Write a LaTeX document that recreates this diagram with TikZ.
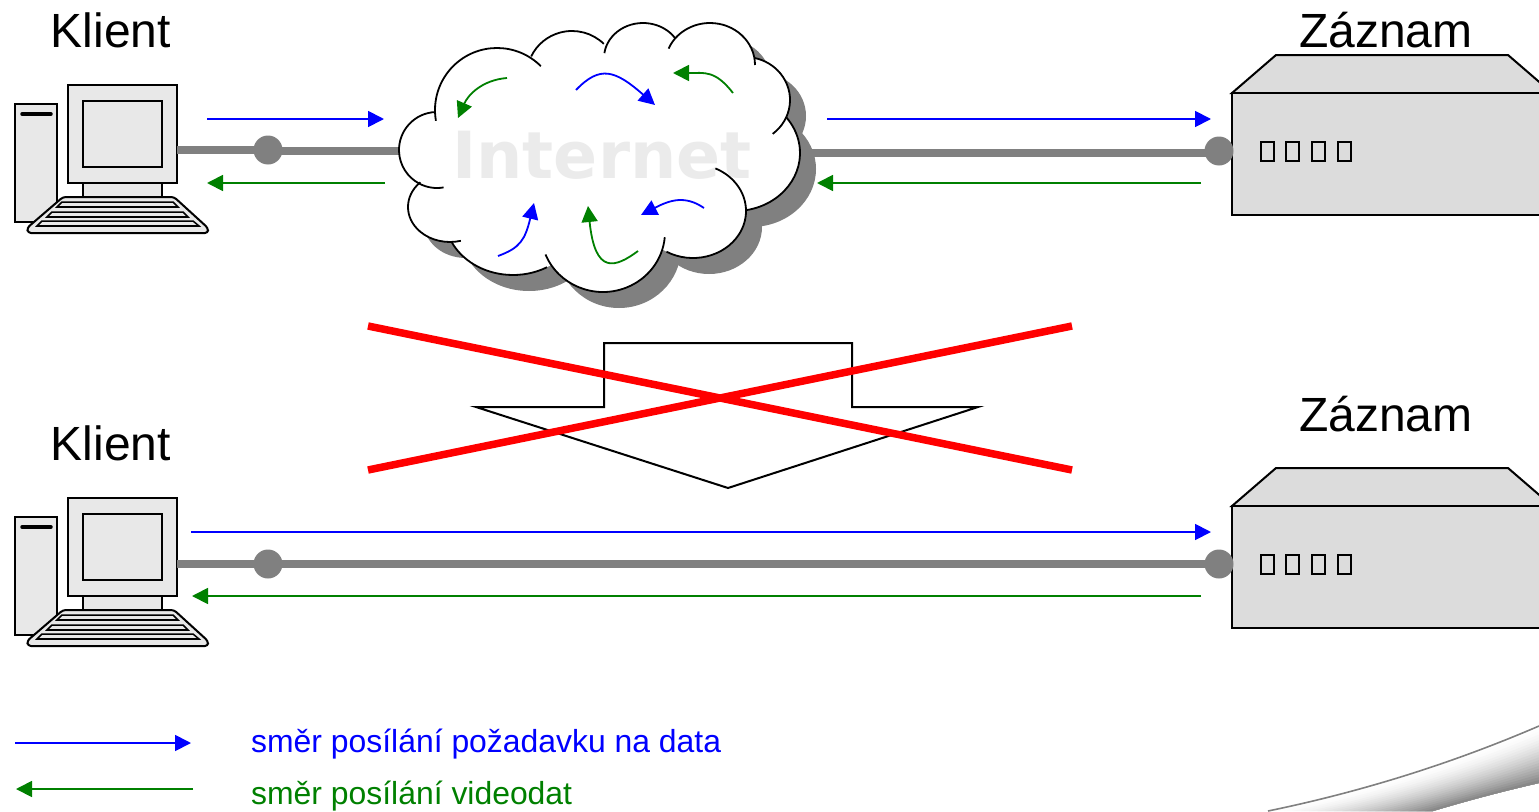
\documentclass[tikz,border=0pt]{standalone}
\usepackage{fontspec}
\setmainfont{Liberation Sans}
\newfontfamily\inetfont{DejaVu Sans}
\usetikzlibrary{arrows.meta}

\definecolor{linegray}{HTML}{808080}
\definecolor{pcgray}{HTML}{E8E8E8}
\definecolor{boxgray}{HTML}{DCDCDC}
\definecolor{inetgray}{HTML}{EBEBEB}
\definecolor{redcross}{HTML}{FF0000}
\definecolor{vidgreen}{HTML}{008000}

\begin{document}
\begin{tikzpicture}[
	x = 1pt, y = -1pt, % picture is laid out in pixels of the page
	> = {Triangle[length=16pt,width=16pt]}, % arrow head style
	P/.style={draw=black, fill=pcgray, line width=2pt, inner sep=0pt, outer sep=0pt}, % computer parts
	Z/.style={draw=black, fill=boxgray, line width=2pt, inner sep=0pt, outer sep=0pt}, % recorder parts
	D/.style={circle, fill=linegray, minimum size=29pt, inner sep=0pt, outer sep=0pt}, % plug
	G/.style={draw=linegray, line width=7.5pt},
	B/.style={->, draw=blue, line width=1.8pt},
	V/.style={->, draw=vidgreen, line width=1.8pt},
	L/.style={anchor=base west, inner sep=0pt, font=\fontsize{48}{48}\selectfont},
	T/.style={anchor=base west, inner sep=0pt, font=\fontsize{31.9}{32}\selectfont},
	]

	\path[use as bounding box, clip] (0,0) rectangle (1539,811);

	% Swoosh in the corner
	\foreach \t in {0,0.05,...,0.96} {
		\pgfmathsetmacro\c{50*\t^1.5}
		\fill[black!\c] ({1268+165*\t},811) .. controls ({1370+100*\t},{790+10*\t}) and ({1460+40*\t},{760+32*\t}) .. (1539,{726+57*\t})
			-- (1539,783) .. controls (1500,792) and (1470,800) .. (1433,811) -- cycle;
	}
	\draw[linegray, line width=1.6pt] (1268,811) .. controls (1370,790) and (1460,760) .. (1539,726);

	% Texts
	\node[L] (K1) at (50.5,47.5) {Klient};
	\node[L] (K2) at (50.5,460.5) {Klient};
	\node[L] (R1) at (1299,47.5) {Záznam};
	\node[L] (R2) at (1299,431.5) {Záznam};
	\node[T, text=blue] (T1) at (251,752) {směr posílání požadavku na data};
	\node[T, text=vidgreen] (T2) at (251,804) {směr posílání videodat};

	% Computers and recorders, the lower pair sits 413 below the upper pair
	\foreach \n/\y in {1/0,2/413} {
		\begin{scope}[shift={(0,\y)}]
			\node[P, minimum width=42pt, minimum height=118pt] (tower\n) at (36,163) {};
			\draw[black, line width=3.5pt, line cap=round] (22,114) -- (51,114);
			\node[P, minimum width=79pt, minimum height=14pt] (neck\n) at (122.5,190) {};
			\node[P, minimum width=109pt, minimum height=98pt] (mon\n) at (122.5,134) {};
			\node[P, minimum width=79pt, minimum height=66pt] (scr\n) at (122.5,134) {};
			\draw[P, rounded corners=3pt, line join=round] (120,197) -- (174,197) -- (208,228) -- (208,233) -- (28,233) -- (27,228) -- (63,197) -- cycle;
			\foreach \a/\b/\c/\d/\e/\f in {62/173/202/57/178/207, 52/183/212/47/188/217, 42/193/221/37/199/226}
				\draw[P, line width=1.5pt] (\a,\c) -- (\b,\c) -- (\e,\f) -- (\d,\f) -- cycle;
			\draw[black, line width=2.8pt] (57,207) -- (178,207) (47,217) -- (188,217) (37,226) -- (199,226);

			\draw[Z] (1232,93) -- (1276,55) -- (1508,55) -- (1552,93) -- cycle;
			\node[Z, minimum width=340pt, minimum height=122pt] (box\n) at (1402,154) {};
			\foreach \x in {1267.5,1292.5,1318.5,1344.5}
				\node[draw=black, line width=1.8pt, minimum width=13pt, minimum height=19pt, inner sep=0pt] at (\x,151.5) {};
		\end{scope}
	}

	% Plugs
	\node[D] (d1) at (268,150) {};
	\node[D] (d2) at (268,564) {};
	\node[D] (e1) at (1219,151) {};
	\node[D] (e2) at (1219,564) {};

	% Cloud ends of the thick line
	\coordinate (cl) at (405,151);
	\coordinate (cr) at (795,153);

	% Thick lines
	\path[G, line width=8pt] (mon1.east |- d1) -- (d1.center);
	\path[G] (cl -| d1) -- (cl);
	\path[G] (cr) -- (cr -| e1);
	\path[G, line width=8pt] (mon2.east |- d2) -- (d2.center);
	\path[G] (d2.center) -- (e2.center);

	% Cloud: shadow, white body, lobes
	\def\lobes{437/150/38/38/268/80, 450/207/42/35/225/75, 513/217/68/58/155/60,
		603/232/62/60/158/5, 693/211/53/47/120/-65, 735/153/65/58/80/-38,
		745/100/45/43/52/-78, 710/65/45/42/0/-157, 643/58/39/35/-35/-172,
		572/75/45/44/-45/-155, 497/110/62/62/-45/-190}
	\foreach \cx/\cy/\rx/\ry/\a/\b [expand list] in \lobes
		\fill[linegray] (\cx+16,\cy+16) ellipse [x radius=\rx, y radius=\ry];
	\foreach \cx/\cy/\rx/\ry/\a/\b [expand list] in \lobes
		\fill[white] (\cx,\cy) ellipse [x radius=\rx, y radius=\ry];
	\fill[white] (440,130) -- (560,60) -- (740,60) -- (770,140) -- (740,210) -- (600,260) -- (450,210) -- cycle;
	\node[text=inetgray, inner sep=0pt, font=\inetfont\bfseries\fontsize{65}{65}\selectfont] (inet) at (602,155) {Internet};
	\foreach \cx/\cy/\rx/\ry/\a/\b [expand list] in \lobes
		\draw[black, line width=1.8pt] ({\cx+\rx*cos(\a)},{\cy+\ry*sin(\a)})
			arc [start angle=\a, end angle=\b, x radius=\rx, y radius=\ry];

	% Arrows inside the cloud
	\draw[V] (507,78) .. controls (482,80) and (468,95) .. (458,118);
	\draw[B] (576,90) .. controls (600,65) and (615,70) .. (655,105);
	\draw[V] (733,93) .. controls (715,70) and (705,73) .. (673,73);
	\draw[B] (704,208) .. controls (685,195) and (670,200) .. (641,215);
	\draw[V] (638,251) .. controls (615,268) and (595,275) .. (588,206);
	\draw[B] (498,256) .. controls (520,248) and (525,240) .. (534,203);

	% Free ends of the straight arrows
	\foreach \n/\px/\py in {a/207/119, b/384/119, c/385/183, f/207/183, g/827/119, h/1211/119, i/1201/183, j/817/183,
		k/191/532, l/1211/532, m/1201/596, o/192/596, q/15/743, r/191/743, s/193/789, t/16/789}
		\coordinate (\n) at (\px,\py);

	% Paths connecting them
	\draw[B] (a) -- (b);
	\draw[V] (c) -- (f);
	\draw[B] (g) -- (h);
	\draw[V] (i) -- (j);
	\draw[B] (k) -- (l);
	\draw[V] (m) -- (o);
	\draw[B] (q) -- (r);
	\draw[V] (s) -- (t);

	% Crossed out arrow
	\draw[black, line width=2pt] (604,343) -- (852,343) -- (852,407) -- (978,407) -- (728,488) -- (476,407) -- (604,407) -- cycle;
	\draw[redcross, line width=7.5pt] (368,326) -- (1072,470);
	\draw[redcross, line width=7.5pt] (368,470) -- (1072,326);

\end{tikzpicture}
\end{document}
